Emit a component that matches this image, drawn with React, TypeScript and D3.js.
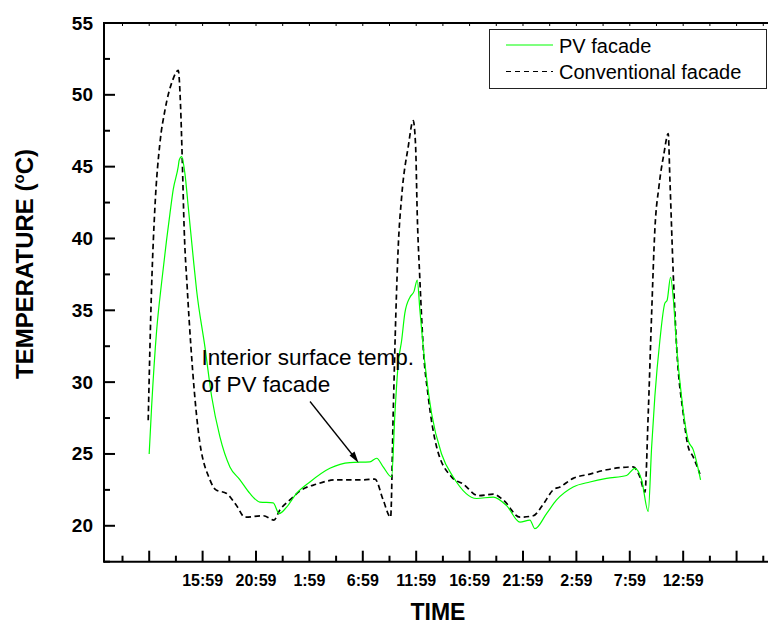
import React from 'react';
import * as d3 from 'd3';

// time in hours counted from midnight of the first day
const pvTime = [10.98, 11.21, 11.68, 12.14, 12.61, 12.92, 13.23, 13.70, 13.79, 14.02, 14.33, 14.64, 15.10, 15.42,
  16.20, 16.83, 17.60, 18.54, 19.48, 20.41, 21.35, 22.59, 23.15, 23.85, 24.78, 26.03, 27.90, 29.77, 31.65, 32.28,
  32.89, 33.68, 33.99, 34.30, 34.62, 34.92, 35.39, 35.77, 36.08, 36.33, 36.80, 37.43, 38.36, 39.45, 41.64, 43.20,
  44.45, 45.70, 46.63, 47.10, 48.19, 49.13, 50.68, 52.25, 53.81, 55.68, 56.46, 57.09, 57.71, 58.03, 58.33, 58.80,
  59.27, 59.48, 59.80, 60.05, 60.37, 60.83, 61.45, 61.92, 62.61];
const pvTemp = [25.0, 28.3, 33.6, 36.9, 39.9, 41.7, 43.4, 45.0, 45.45, 45.7, 44.5, 42.2, 38.7, 36.4,
  32.45, 29.0, 26.2, 24.1, 23.2, 22.25, 21.65, 21.6, 20.85, 21.3, 22.25, 23.05, 24.0, 24.4, 24.45, 24.7,
  24.1, 23.4, 27.8, 31.3, 32.9, 34.8, 35.9, 36.3, 37.1, 35.0, 31.3, 27.8, 25.0, 23.4, 21.9, 22.0,
  21.4, 20.25, 20.4, 19.8, 20.85, 21.8, 22.7, 23.05, 23.3, 23.5, 24.0, 23.2, 21.0, 25.5, 29.0, 32.9,
  35.5, 35.7, 37.3, 35.9, 32.45, 29.0, 25.95, 25.3, 23.2];

const convTime = [10.89, 11.21, 11.52, 11.98, 12.45, 13.17, 13.70, 13.92, 14.07, 14.26, 14.54, 14.89, 15.57,
  16.67, 17.23, 18.23, 19.17, 19.94, 21.66, 22.66, 23.22, 24.16, 25.25, 26.66, 28.53, 31.02, 32.12, 32.89,
  33.59, 33.83, 34.08, 34.30, 34.62, 35.24, 35.70, 35.93, 36.08, 36.33, 36.64, 37.11, 37.89, 39.30, 40.39,
  41.79, 43.20, 44.13, 45.70, 46.94, 47.88, 48.81, 49.44, 50.68, 52.25, 53.81, 56.30, 56.93, 57.40, 57.71,
  58.03, 58.33, 58.71, 59.18, 59.58, 59.74, 60.05, 60.37, 60.99, 61.45, 61.92, 62.55];
const convTemp = [27.35, 36.7, 42.2, 46.6, 48.9, 51.0, 51.7, 49.2, 45.7, 40.6, 36.6, 32.45, 26.65,
  23.2, 22.5, 22.25, 21.4, 20.6, 20.7, 20.4, 21.1, 21.8, 22.5, 22.9, 23.2, 23.2, 23.25, 21.8,
  20.6, 27.8, 34.8, 39.4, 42.9, 46.4, 48.2, 46.4, 41.7, 37.1, 32.45, 29.0, 25.5, 23.4, 22.9,
  22.1, 22.2, 21.8, 20.6, 20.7, 21.5, 22.5, 22.7, 23.3, 23.6, 23.9, 24.1, 23.4, 22.35, 27.8,
  34.8, 40.6, 43.6, 45.9, 47.3, 44.1, 37.6, 32.45, 27.8, 25.5, 24.8, 23.6];

const xTickHours = [10.983, 15.983, 20.983, 25.983, 30.983, 35.983, 40.983, 45.983, 50.983, 55.983, 60.983, 65.983];
const xTickLabels = ['', '15:59', '20:59', '1:59', '6:59', '11:59', '16:59', '21:59', '2:59', '7:59', '12:59', ''];
const yTickValues = [20, 25, 30, 35, 40, 45, 50, 55];

const seriesNames = ['PV facade', 'Conventional facade'];

const width = 768, height = 626;
const font = 'Liberation Sans, Arial, Helvetica, sans-serif';

export default function App() {
  const x = d3.scaleLinear().domain([6.75, 69]).range([104, 768.8]);
  const y = d3.scaleLinear().domain([17.5, 55]).range([561.7, 23]);

  const line = d3.line<[number, number]>()
    .x(d => x(d[0]))
    .y(d => y(d[1]))
    .curve(d3.curveMonotoneX);

  const pv = pvTime.map((t, i) => [t, pvTemp[i]] as [number, number]);
  const conv = convTime.map((t, i) => [t, convTemp[i]] as [number, number]);

  const xMinor = xTickHours.map(h => h - 2.5).concat([xTickHours[xTickHours.length - 1] + 2.5]);
  const yMinor = yTickValues.map(v => v - 2.5);

  const x0 = x.range()[0], yBottom = y.range()[0], yTop = y.range()[1];

  return (
    <div style={{ position: 'absolute', left: 0, top: 0 }}>
      <svg width={width} height={height} style={{ display: 'block', background: '#fff' }} fontFamily={font}>
        {/* series */}
        <path d={line(conv) || ''} fill="none" stroke="#000" strokeWidth={1.7} strokeDasharray="5.5 3.5" />
        <path d={line(pv) || ''} fill="none" stroke="#00ff00" strokeWidth={1.2} />

        {/* top axis */}
        <line x1={x0} x2={width} y1={yTop} y2={yTop} stroke="#000" strokeWidth={2} />
        {xTickHours.concat(xMinor).map((h, i) => (
          <line key={'t' + i} x1={x(h)} x2={x(h)} y1={yTop} y2={yTop + 3} stroke="#000" strokeWidth={1} />
        ))}

        {/* bottom axis */}
        <line x1={x0} x2={width} y1={yBottom} y2={yBottom} stroke="#000" strokeWidth={2} />
        {xTickHours.map((h, i) => (
          <g key={'xb' + i}>
            <line x1={x(h)} x2={x(h)} y1={yBottom} y2={yBottom - 11} stroke="#000" strokeWidth={2} />
            <text x={x(h)} y={586} textAnchor="middle" fontSize={16} fontWeight="bold">{xTickLabels[i]}</text>
          </g>
        ))}
        {xMinor.map((h, i) => (
          <line key={'xm' + i} x1={x(h)} x2={x(h)} y1={yBottom} y2={yBottom - 6} stroke="#000" strokeWidth={2} />
        ))}

        {/* left axis */}
        <line x1={x0} x2={x0} y1={yTop - 1} y2={yBottom + 1} stroke="#000" strokeWidth={2} />
        {yTickValues.map((v, i) => (
          <g key={'y' + i}>
            <line x1={x0} x2={x0 + 11} y1={y(v)} y2={y(v)} stroke="#000" strokeWidth={2} />
            <text x={93} y={y(v) + 6.5} textAnchor="end" fontSize={19} fontWeight="bold">{v}</text>
          </g>
        ))}
        {yMinor.map((v, i) => (
          <line key={'ym' + i} x1={x0} x2={x0 + 6} y1={y(v)} y2={y(v)} stroke="#000" strokeWidth={2} />
        ))}

        {/* axis titles */}
        <text x={438} y={620} textAnchor="middle" fontSize={23} fontWeight="bold">TIME</text>
        <text transform="translate(33,264) rotate(-90)" textAnchor="middle" fontSize={24} fontWeight="bold">
          TEMPERATURE (<tspan fontSize={15} dy={-9}>o</tspan><tspan dy={9}>C)</tspan>
        </text>

        {/* annotation */}
        <text x={201.5} y={365} fontSize={22.5}>Interior surface temp.</text>
        <text x={201.5} y={391.5} fontSize={22.5}>of PV facade</text>
        <line x1={310} y1={401.5} x2={355} y2={458} stroke="#000" strokeWidth={1.3} />
        <path d="M358.5,462.7 L349.5,455.5 L354.5,451.5 Z" fill="#000" />

        {/* legend */}
        <rect x={489.5} y={29.5} width={277} height={59} fill="#fff" stroke="#222" strokeWidth={1} />
        <line x1={506} x2={553} y1={45} y2={45} stroke="#00ff00" strokeWidth={1.2} />
        <text x={559} y={52.7} fontSize={20}>{seriesNames[0]}</text>
        <line x1={506} x2={553} y1={71.5} y2={71.5} stroke="#000" strokeWidth={1.2} strokeDasharray="5 4" />
        <text x={559} y={78.5} fontSize={20}>{seriesNames[1]}</text>
      </svg>
    </div>
  );
}
